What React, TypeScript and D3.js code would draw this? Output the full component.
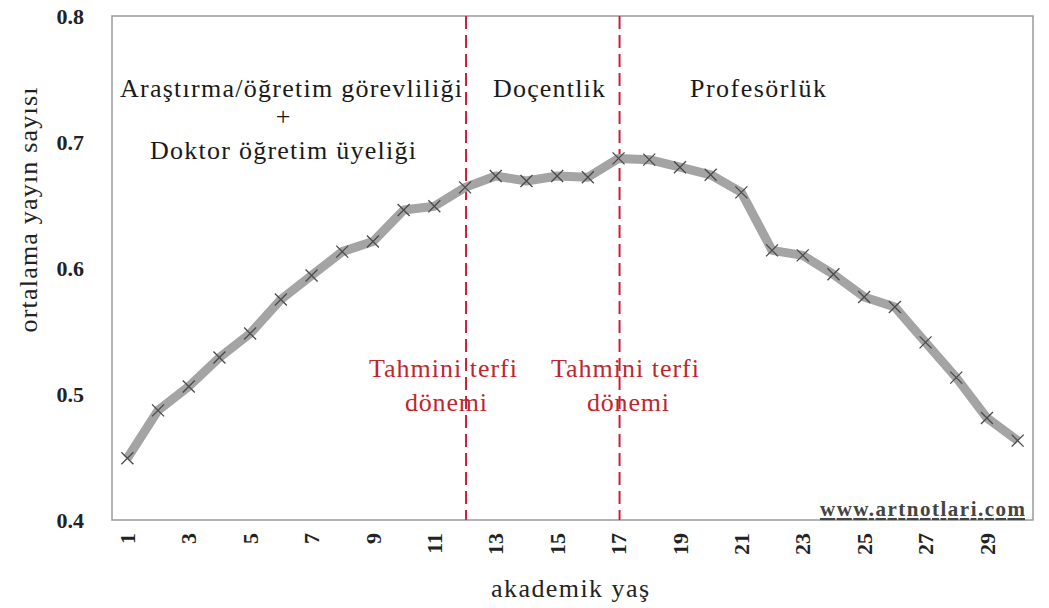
import React from "react";
import * as d3 from "d3";

const ages: number[] = d3.range(1, 31);
const avgPubs: number[] = [
  0.449, 0.487, 0.506, 0.529, 0.548, 0.575, 0.594, 0.613, 0.621, 0.646,
  0.649, 0.664, 0.673, 0.669, 0.673, 0.672, 0.687, 0.686, 0.680, 0.674,
  0.660, 0.614, 0.610, 0.595, 0.577, 0.569, 0.541, 0.513, 0.481, 0.463,
];
const xTickLabels: number[] = [1, 3, 5, 7, 9, 11, 13, 15, 17, 19, 21, 23, 25, 27, 29];
const yTicks: number[] = [0.4, 0.5, 0.6, 0.7, 0.8];
const promotionAges: number[] = [12, 17];

const W = 1049;
const H = 608;
const M = { left: 112, right: 1033, top: 16, bottom: 520 };
const SERIF = "'Liberation Serif', 'DejaVu Serif', serif";
const RED = "#c8203a";
const TEXT_RED = "#c0272d";
const LABEL_SIZE = 26;

export default function App() {
  const x = d3
    .scalePoint<number>()
    .domain(ages)
    .range([M.left, M.right])
    .padding(0.5);
  const y = d3.scaleLinear().domain([0.4, 0.8]).range([M.bottom, M.top]);

  const line = d3
    .line<number>()
    .x((_, i) => x(ages[i]) as number)
    .y((d) => y(d));

  const promoLabels = [
    { cx: 443, w1: 148, w2: 82 },
    { cx: 625, w1: 148, w2: 82 },
  ];

  return (
    <svg
      width={W}
      height={H}
      style={{ position: "absolute", left: 0, top: 0, background: "#fff" }}
      fontFamily={SERIF}
    >
      <rect x={0} y={0} width={W} height={H} fill="#fff" />
      {/* plot frame */}
      <rect
        x={M.left}
        y={M.top}
        width={M.right - M.left}
        height={M.bottom - M.top}
        fill="none"
        stroke="#9a9a9a"
        strokeWidth={1.5}
      />
      {/* y ticks */}
      {yTicks.map((t) => (
        <text
          key={t}
          x={84}
          y={y(t)}
          dy="0.35em"
          textAnchor="end"
          fontWeight="bold"
          fontSize={22}
          fill="#222"
        >
          {t.toFixed(1)}
        </text>
      ))}
      {/* x ticks */}
      {xTickLabels.map((t) => (
        <text
          key={t}
          transform={`translate(${x(t)},${M.bottom + 13}) rotate(-90)`}
          dy="0.35em"
          textAnchor="end"
          fontWeight="bold"
          fontSize={22}
          fill="#222"
        >
          {t}
        </text>
      ))}
      {/* axis titles */}
      <text
        x={570}
        y={597}
        textAnchor="middle"
        fontSize={LABEL_SIZE}
        fill="#222"
        textLength={158}
        lengthAdjust="spacing"
      >
        akademik yaş
      </text>
      <text
        transform={`translate(37,210) rotate(-90)`}
        textAnchor="middle"
        fontSize={LABEL_SIZE}
        fill="#222"
        textLength={245}
        lengthAdjust="spacing"
      >
        ortalama yayın sayısı
      </text>
      {/* promotion lines */}
      {promotionAges.map((a) => (
        <line
          key={a}
          x1={(x(a) as number) + 1}
          x2={(x(a) as number) + 1}
          y1={M.top}
          y2={M.bottom}
          stroke={RED}
          strokeWidth={2}
          strokeDasharray="13 6"
        />
      ))}
      {/* data line */}
      <path
        d={line(avgPubs) || ""}
        fill="none"
        stroke="#a4a4a4"
        strokeWidth={9}
        strokeLinejoin="round"
        strokeLinecap="butt"
      />
      {avgPubs.map((v, i) => {
        const cx = x(ages[i]) as number;
        const cy = y(v);
        const s = 6;
        return (
          <path
            key={i}
            d={`M${cx - s},${cy - s}L${cx + s},${cy + s}M${cx - s},${cy + s}L${cx + s},${cy - s}`}
            stroke="#4a4a4a"
            strokeWidth={1.3}
            fill="none"
          />
        );
      })}
      {/* period labels */}
      <text x={291} y={97} textAnchor="middle" fontSize={LABEL_SIZE} fill="#1a1a1a" textLength={342} lengthAdjust="spacing">
        Araştırma/öğretim görevliliği
      </text>
      <text x={283} y={125} textAnchor="middle" fontSize={LABEL_SIZE} fill="#1a1a1a">
        +
      </text>
      <text x={283} y={159} textAnchor="middle" fontSize={LABEL_SIZE} fill="#1a1a1a" textLength={266} lengthAdjust="spacing">
        Doktor öğretim üyeliği
      </text>
      <text x={549} y={97} textAnchor="middle" fontSize={LABEL_SIZE} fill="#1a1a1a" textLength={112} lengthAdjust="spacing">
        Doçentlik
      </text>
      <text x={758} y={97} textAnchor="middle" fontSize={LABEL_SIZE} fill="#1a1a1a" textLength={136} lengthAdjust="spacing">
        Profesörlük
      </text>
      {/* promotion labels */}
      {promoLabels.map((p, i) => (
        <g key={i} fill={TEXT_RED} fontSize={LABEL_SIZE} textAnchor="middle">
          <text x={p.cx} y={377} textLength={p.w1} lengthAdjust="spacing">
            Tahmini terfi
          </text>
          <text x={p.cx + 3} y={411} textLength={p.w2} lengthAdjust="spacing">
            dönemi
          </text>
        </g>
      ))}
      {/* watermark */}
      <text
        x={1025}
        y={516}
        textAnchor="end"
        fontSize={21}
        fontWeight="bold"
        fill="#444"
        textDecoration="underline"
        textLength={205}
        lengthAdjust="spacing"
      >
        www.artnotlari.com
      </text>
    </svg>
  );
}
